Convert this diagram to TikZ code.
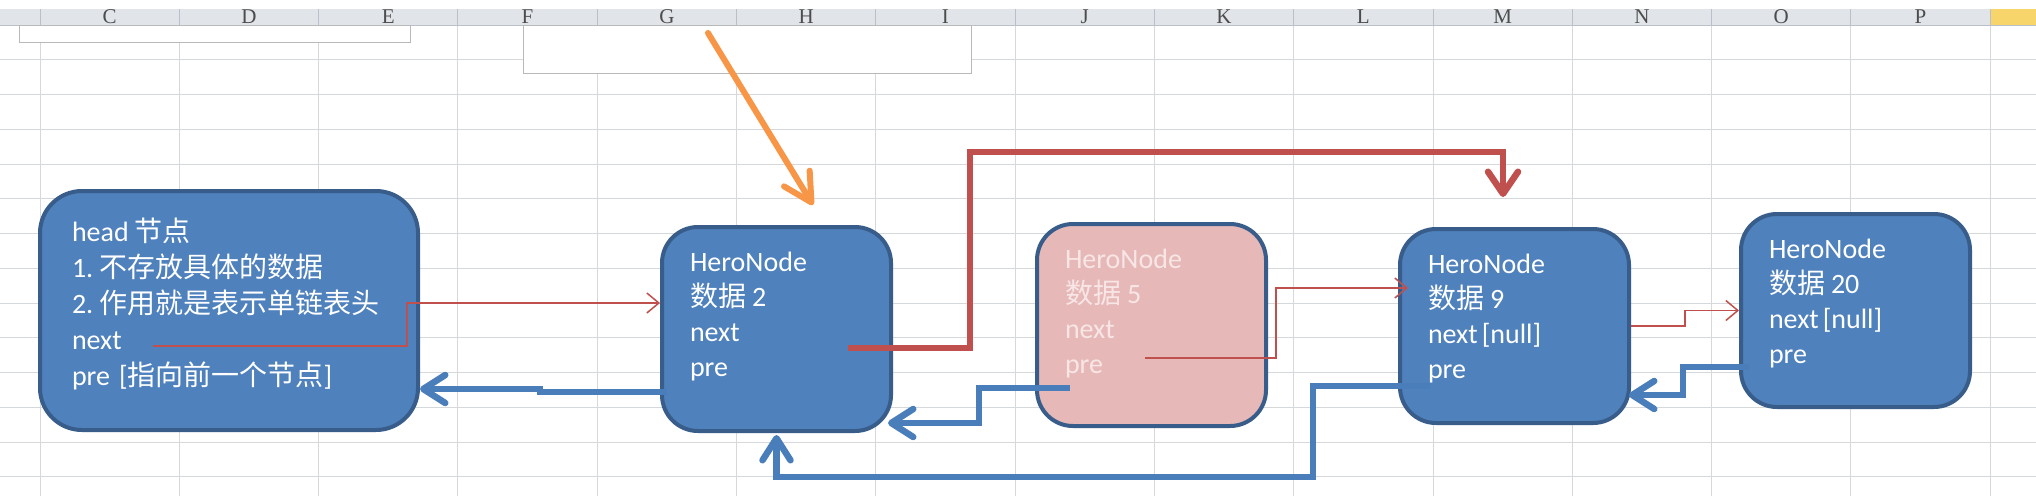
\documentclass[tikz,border=0pt]{standalone}
\usepackage{fontspec}
\setmainfont{Carlito}
\newfontfamily\zhfont{Noto Sans CJK SC}
\newfontfamily\colfont{Liberation Serif}
\usepackage{xcolor}
\usepackage{tikz}
\usetikzlibrary{arrows.meta}
\definecolor{sheetBlue}{HTML}{4F81BD}
\definecolor{sheetNavy}{HTML}{385D8A}
\definecolor{linkBlue}{HTML}{4A7EBB}
\definecolor{sheetRed}{HTML}{C0504D}
\definecolor{sheetPink}{HTML}{E6B9B8}
\definecolor{pinkText}{HTML}{F8E6E6}
\definecolor{sheetOrange}{HTML}{F79646}
\definecolor{sheetGrid}{HTML}{D6D9DC}
\definecolor{sheetHeader}{HTML}{E1E5EA}
\definecolor{headerLine}{HTML}{B9C0C9}
\definecolor{sheetYellow}{HTML}{F8D56A}
\definecolor{sheetLetter}{HTML}{4C4C4C}
\newcommand{\zh}[1]{{\zhfont #1}}
\newcommand{\gap}{\hspace{6pt}}

\begin{document}
\begin{tikzpicture}[x=1pt,y=-1pt,
      gridline/.style={draw=sheetGrid,line width=1pt},
      headline/.style={draw=headerLine,line width=1pt},
      colname/.style={font=\colfont\fontsize{21}{21}\selectfont,text=sheetLetter,inner sep=0pt},
      frame/.style={draw=gray!55,fill=white,line width=1pt},
      card/.style={draw=sheetNavy,line width=4pt,fill=sheetBlue,text=white,align=left,
        anchor=north west,inner ysep=0pt,font=\fontsize{28}{35}\selectfont},
      headcard/.style={card,rounded corners=42pt,text width=314pt,inner xsep=32pt,
        text height=50pt,text depth=189pt,font=\fontsize{28}{36}\selectfont},
      hero/.style={card,rounded corners=36pt,text width=173pt,inner xsep=28pt,
        text height=44pt,text depth=#1},
      pinkhero/.style={hero=#1,fill=sheetPink,text=pinkText},
      thinlink/.style={draw=sheetRed,line width=1.5pt,-{Straight Barb[length=12pt,width=20pt]}},
      redlink/.style={draw=sheetRed,line width=6.5pt,-{Straight Barb[round,length=22pt,width=30pt]}},
      bluelink/.style={draw=linkBlue,line width=6.5pt,-{Straight Barb[round,length=22pt,width=28pt]}},
      pointer/.style={draw=sheetOrange,line width=6pt,line cap=round,
        -{Straight Barb[round,length=28pt,width=30pt]}}]
    % sheet background
    \fill[white] (0,0) rectangle (2036,496);
    \useasboundingbox (0,0) rectangle (2036,496);
    \foreach \k in {0,...,14}
      \draw[gridline] ({40+139.3*\k},25) -- ({40+139.3*\k},496);
    \foreach \k in {1,...,13}
      \draw[gridline] (0,{25+34.76*\k}) -- (2036,{25+34.76*\k});
    % column header
    \fill[sheetHeader] (0,9) rectangle (2036,25);
    \fill[sheetYellow] (1990,9) rectangle (2036,25);
    \foreach \k in {0,...,14}
      \draw[headline] ({40+139.3*\k},9) -- ({40+139.3*\k},25);
    \draw[headline] (0,25) -- (2036,25);
    \foreach \c [count=\i from 0] in {C,D,E,F,G,H,I,J,K,L,M,N,O,P}
      \node[colname,anchor=base] (col\c) at ({40+139.3*(\i+0.5)},23) {\c};
    \fill[white] (0,0) rectangle (2036,9);
    % empty text frames
    \draw[frame] (19,25) rectangle (410,42);
    \draw[frame] (523,25) rectangle (971,73);

    % list nodes
    \node[headcard] (head) at (38,189) {head\gap\zh{节点}\\1.\gap\zh{不存放具体的数据}\\
      2.\gap\zh{作用就是表示单链表头}\\next\\pre\hspace{9pt}[\zh{指向前一个节点}]};
    \node[hero=160pt] (n2) at (660,225) {HeroNode\\\zh{数据}\gap2\\next\\pre};
    \node[pinkhero=158pt] (n5) at (1035,222) {HeroNode\\\zh{数据}\gap5\\next\\pre};
    \node[hero=150pt] (n9) at (1398,227) {HeroNode\\\zh{数据}\gap9\\next\hspace{4pt}[null]\\pre};
    \node[hero=149pt] (n20) at (1739,212) {HeroNode\\\zh{数据}\gap20\\next\hspace{4pt}[null]\\pre};

    \coordinate (headnext) at (153,346);
    \coordinate (n2next) at (848,348);
    \coordinate (n2pre) at (667,392);
    \coordinate (n5next) at (1145,358);
    \coordinate (n5pre) at (1070,388);
    \coordinate (n9pre) at (1430,386);
    \coordinate (n20pre) at (1749,367);
    \coordinate (cursor) at (708,33);

    % next links
    \draw[thinlink] (headnext) -- ++(254,0) |- ([yshift=26pt]n2.west);
    \draw[redlink] (n2next) -- ++(122,0) -- ++(0,-196) -| ([xshift=-11.5pt,yshift=30pt]n9.north);
    \draw[thinlink] (n5next) -- ++(131,0) |- ([xshift=10pt,yshift=38pt]n9.west);
    \draw[thinlink] (n9.east) -- ++(54,0) |- (n20.west);
    % pre links
    \draw[bluelink] (n2pre) -- ++(-127,0) |- ([yshift=-78.5pt]head.east);
    \draw[bluelink] (n5pre) -- ++(-91,0) |- ([xshift=-5pt,yshift=-94pt]n2.east);
    \draw[bluelink] (n9pre) -- ++(-117,0) -- ++(0,91) -| ([yshift=-2pt]n2.south);
    \draw[bluelink] (n20pre) -- ++(-66,0) |- ([xshift=-2pt,yshift=-69pt]n9.east);
    \draw[pointer] (cursor) -- ([xshift=36.5pt,yshift=20pt]n2.north);
  \end{tikzpicture}
\end{document}
